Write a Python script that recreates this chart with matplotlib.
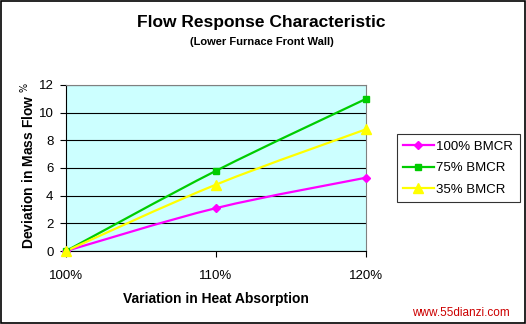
import matplotlib.pyplot as plt
import numpy as np
from matplotlib.path import Path
from matplotlib.patches import PathPatch, Rectangle

plt.rcParams['font.family'] = ['Liberation Sans', 'DejaVu Sans']

# data
heat = [100, 110, 120]
series_names = ['100% BMCR', '75% BMCR', '35% BMCR']
flow_100 = [0, 3.1, 5.3]
flow_75 = [0, 5.8, 11.0]
flow_35 = [0, 4.8, 8.8]
x_ticks = [100, 110, 120]
x_tick_labels = ['100%', '110%', '120%']
y_ticks = [0, 2, 4, 6, 8, 10, 12]

colors = ['#FF00FF', '#00CC00', '#FFFF00']
markers = ['D', 's', '^']
msizes = [4, 5, 7]


def smooth_path(xs, ys, t=1 / 6):
    # cubic bezier through the points (catmull-rom style control points)
    pts = np.column_stack([xs, ys]).astype(float)
    ext = np.vstack([pts[0], pts, pts[-1]])
    verts = [tuple(pts[0])]
    codes = [Path.MOVETO]
    for i in range(1, len(ext) - 2):
        p0, p1, p2, p3 = ext[i - 1], ext[i], ext[i + 1], ext[i + 2]
        c1 = p1 + (p2 - p0) * t
        c2 = p2 - (p3 - p1) * t
        verts += [tuple(c1), tuple(c2), tuple(p2)]
        codes += [Path.CURVE4] * 3
    return Path(verts, codes)


fig = plt.figure(figsize=(5.26, 3.24), dpi=100)
ax = fig.add_axes([0.1255, 0.2253, 0.5705, 0.5124])
ax.set_facecolor('#CCFFFF')

for ys, name, c, m, ms in zip([flow_100, flow_75, flow_35], series_names, colors, markers, msizes):
    patch = PathPatch(smooth_path(heat, ys), facecolor='none', edgecolor=c, lw=1.6, zorder=3)
    ax.add_patch(patch)
    ax.plot(heat, ys, color=c, lw=1.6, marker=m, ms=ms, linestyle='none', clip_on=False, zorder=4)
    ax.plot([], [], color=c, lw=1.6, marker=m, ms=ms, label=name)

ax.set_xlim(100, 120)
ax.set_ylim(0, 12)
ax.set_xticks(x_ticks)
ax.set_xticklabels(x_tick_labels)
ax.set_yticks(y_ticks)
ax.grid(axis='y', color='black', lw=0.8)
ax.set_axisbelow(True)
ax.tick_params(labelsize=9.5, length=4, color='black', pad=5)
ax.tick_params(axis='x', pad=10)
for sp in ax.spines.values():
    sp.set_color('#808080')
    sp.set_linewidth(0.8)
ax.spines['left'].set_color('black')
ax.spines['bottom'].set_color('black')

ax.set_xlabel('Variation in Heat Absorption', fontsize=10, fontweight='bold', labelpad=7)
fig.text(0.053, 0.49, 'Deviation in Mass Flow $^{\\%}$', rotation=90, fontsize=10,
         fontweight='bold', ha='center', va='center')

fig.text(0.497, 0.932, 'Flow Response Characteristic', fontsize=12.5, fontweight='bold',
         ha='center', va='center')
fig.text(0.497, 0.869, '(Lower Furnace Front Wall)', fontsize=8, fontweight='bold',
         ha='center', va='center')

leg = ax.legend(loc='upper left', bbox_to_anchor=(1.08, 0.745), fontsize=9.5, frameon=True,
                fancybox=False, edgecolor='black', handlelength=2.3, borderpad=0.5,
                labelspacing=0.7, handletextpad=0.2)
leg.get_frame().set_linewidth(0.8)

fig.text(0.97, 0.035, 'www.55dianzi.com', color='#CC0000', fontsize=8.5, ha='right', va='center')

fig.patches.append(Rectangle((0.001, 0.002), 0.997, 0.995, transform=fig.transFigure,
                             fill=False, edgecolor='black', lw=1.2))

fig.savefig('out.png', dpi=100)
